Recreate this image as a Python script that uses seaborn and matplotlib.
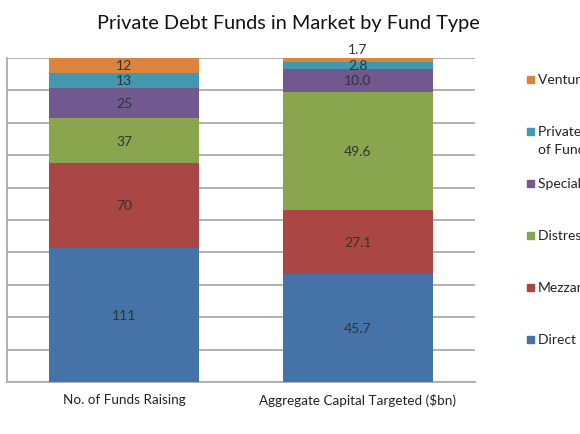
import numpy as np
import pandas as pd
import matplotlib
matplotlib.use("Agg")
import matplotlib.pyplot as plt
import seaborn as sns

# data, bottom -> top
fund_types = ["Direct Lending", "Mezzanine", "Distressed Debt",
              "Special Situations", "Private Debt Fund\nof Funds", "Venture Debt"]
measures = ["No. of Funds Raising", "Aggregate Capital Targeted ($bn)"]
funds_raising = [111, 70, 37, 25, 13, 12]
capital_targeted = [45.7, 27.1, 49.6, 10.0, 2.8, 1.7]
colors = ["#4572A7", "#AA4643", "#89A54E", "#71588F", "#4198AF", "#DB843D"]

sns.set_style("white")
plt.rcParams["font.family"] = ["Lato", "DejaVu Sans"]

vals = np.array([funds_raising, capital_targeted], dtype=float)  # (measure, type)
pct = vals / vals.sum(axis=1, keepdims=True) * 100
cum = pct.cumsum(axis=1)

fig = plt.figure(figsize=(5.8, 4.35), dpi=100)
ax = fig.add_axes([7 / 580, 52 / 435, 468 / 580, 324 / 435])

# draw from top level down so lower segments overlay
for i in range(len(fund_types) - 1, -1, -1):
    df = pd.DataFrame({"measure": measures, "value": cum[:, i]})
    sns.barplot(data=df, x="measure", y="value", color=colors[i], width=0.64,
                saturation=1, linewidth=0, ax=ax, zorder=3)

# value labels
labels = [[str(v) for v in funds_raising], [f"{v:.1f}" for v in capital_targeted]]
for m in range(len(measures)):
    for i in range(len(fund_types)):
        y = cum[m, i] - pct[m, i] / 2
        if m == 1 and i == len(fund_types) - 1:
            y = 102.8  # tiny slice, label sits above the bar
        ax.text(m, y, labels[m][i], ha="center", va="center",
                fontsize=10, color="#333333", zorder=5, clip_on=False)

ax.set_xlim(-0.5, 1.5)
ax.set_ylim(0, 100)
ax.set_yticks(np.arange(0, 101, 10))
ax.set_yticklabels([])
ax.yaxis.grid(True, color="#ababab", linewidth=1.3)
ax.set_axisbelow(True)
ax.set_xlabel("")
ax.set_ylabel("")
ax.tick_params(axis="both", length=0)
ax.tick_params(axis="x", labelsize=9.7, labelcolor="#222222", pad=8)
for s in ["top", "right"]:
    ax.spines[s].set_visible(False)
for s in ["left", "bottom"]:
    ax.spines[s].set_color("#ababab")
    ax.spines[s].set_linewidth(1.3)

fig.suptitle("Private Debt Funds in Market by Fund Type", x=288 / 580, y=1 - 24 / 435,
             va="center", fontsize=14.3, color="#111111")

# legend, top -> bottom, running off the figure edge like the original
legend_y = [80, 132, 184, 236, 288, 340]
for k, i in enumerate(range(len(fund_types) - 1, -1, -1)):
    yy = 1 - legend_y[k] / 435
    fig.patches.append(plt.Rectangle((527 / 580, yy - 3.5 / 435), 7 / 580, 7 / 435,
                                     transform=fig.transFigure, color=colors[i]))
    for j, line in enumerate(fund_types[i].split("\n")):
        fig.text(538 / 580, yy - j * 18 / 435, line, ha="left", va="center",
                 fontsize=10, color="#222222")

fig.savefig("out.png", dpi=100)
